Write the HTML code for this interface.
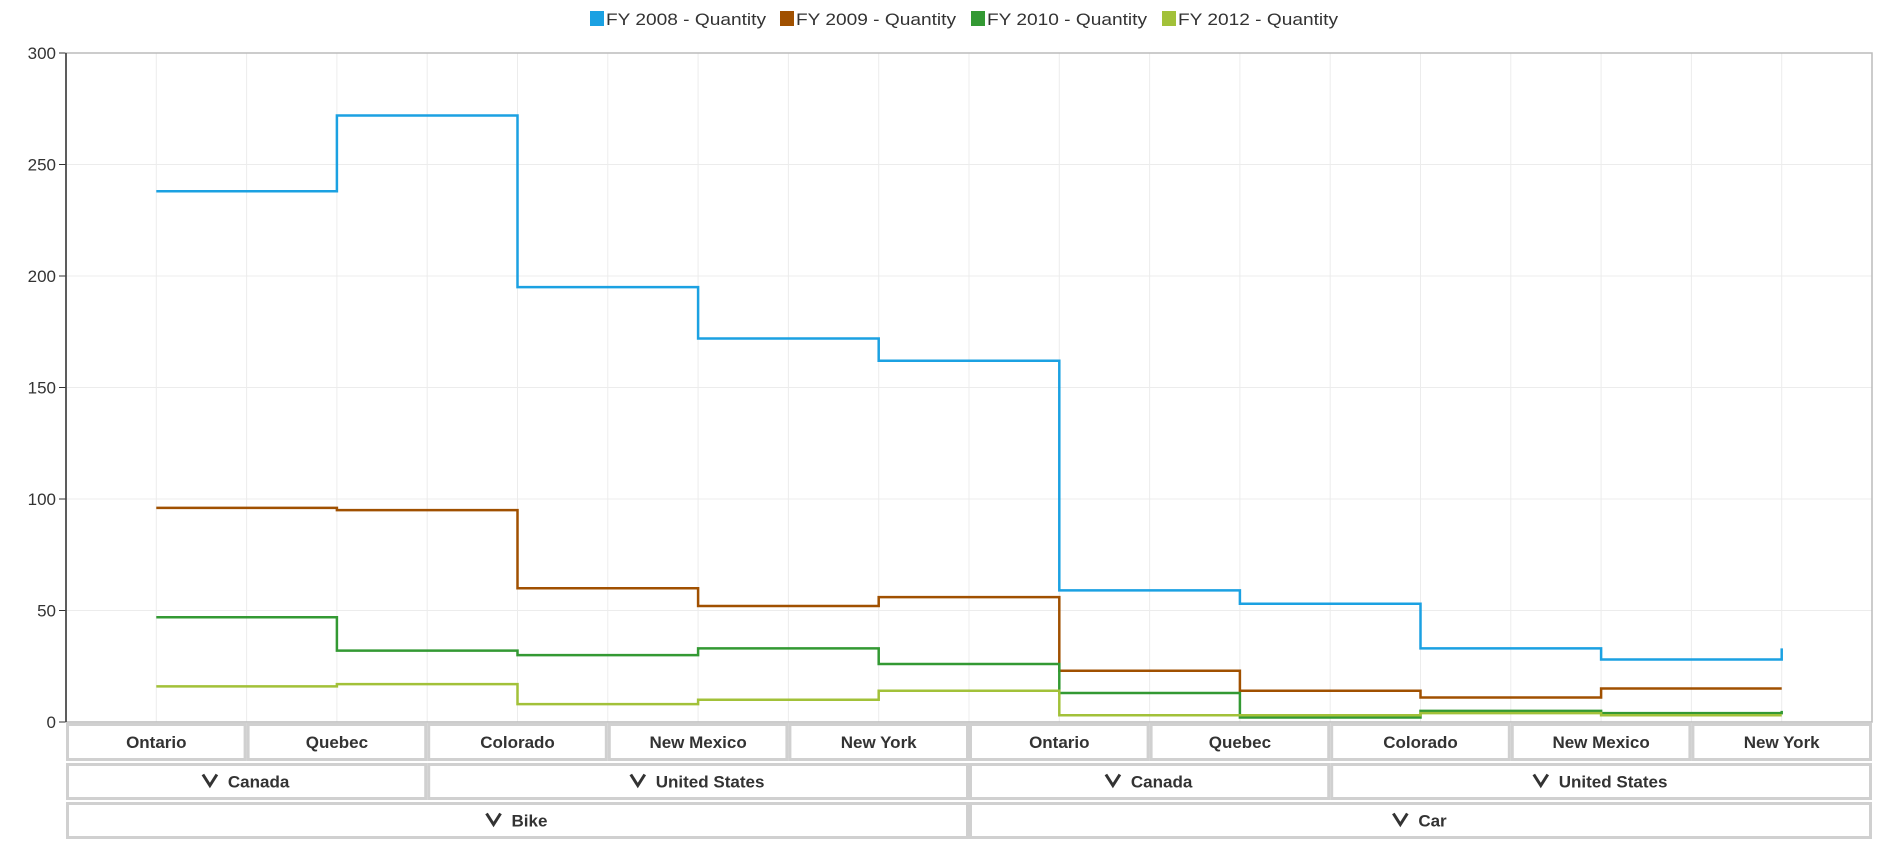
<!DOCTYPE html>
<html><head><meta charset="utf-8"><style>
html,body{margin:0;padding:0;background:#fff;}
svg{display:block;font-family:"Liberation Sans",sans-serif;}
</style></head><body>
<svg id="chart" width="1891" height="851"></svg>
<script>
const categories=["Ontario","Quebec","Colorado","New Mexico","New York","Ontario","Quebec","Colorado","New Mexico","New York"];
const countries=[["Canada",0,2],["United States",2,5],["Canada",5,7],["United States",7,10]];
const products=[["Bike",0,5],["Car",5,10]];
const seriesNames=["FY 2008 - Quantity","FY 2009 - Quantity","FY 2010 - Quantity","FY 2012 - Quantity"];
const seriesColors=["#1ba1e2","#a05000","#339933","#a2c139"];
const fy2008=[238,272,195,172,162,59,53,33,28,33];
const fy2009=[96,95,60,52,56,23,14,11,15,15];
const fy2010=[47,32,30,33,26,13,2,5,4,5];
const fy2012=[16,17,8,10,14,3,3,4,3,3];
const yTicks=[0,50,100,150,200,250,300];
const series=[fy2008,fy2009,fy2010,fy2012];

const NS="http://www.w3.org/2000/svg";
const svg=document.getElementById('chart');
const L=66,R=1872,T=53,B=722,yMax=300;
const colW=(R-L)/categories.length;
const x=i=>L+colW*(i+0.5);
const y=v=>B-(v/yMax)*(B-T);
function mk(tag,attrs,parent){const e=document.createElementNS(NS,tag);for(const k in attrs)e.setAttribute(k,attrs[k]);(parent||svg).appendChild(e);return e;}

for(let i=0;i<=categories.length*2;i++){
  const gx=L+colW*i/2;
  const g=mk('line',{x1:gx,x2:gx,y1:T,y2:B,stroke:'#ececec','stroke-width':1});
  
  
}
yTicks.forEach(t=>{
  const g=mk('line',{x1:L,x2:R,y1:y(t),y2:y(t),stroke:'#ececec','stroke-width':1});
  
  
  const tk=mk('line',{x1:L-7,x2:L,y1:y(t),y2:y(t),stroke:'#333','stroke-width':1});
  
  
  const lb=mk('text',{x:L-10,y:y(t)+6,'text-anchor':'end','font-size':17,fill:'#333'});
  lb.textContent=t;
  
  
});
const fr=mk('rect',{x:L,y:T,width:R-L,height:B-T,fill:'none',stroke:'#bbb','stroke-width':1.5});


const ax=mk('line',{x1:L,x2:L,y1:T,y2:B,stroke:'#333','stroke-width':1.5});



series.forEach((s,si)=>{
  let d=`M${x(0)},${y(s[0])}`;
  for(let i=1;i<s.length;i++){d+=` H${x(i)} V${y(s[i])}`;}
  const p=mk('path',{d:d,fill:'none',stroke:seriesColors[si],'stroke-width':2.5});
  
  
});

const rows=[[B+1,38],[B+41,37],[B+80,37]];
function cell(x0,x1,row,label,chev,name){
  const [ry,rh]=rows[row];
  const r=mk('rect',{x:x0+1.5,y:ry+1.5,width:x1-x0-3,height:rh-3,fill:'#fff',stroke:'#d0d0d0','stroke-width':3});
  
  
  const cx=(x0+x1)/2, cy=ry+rh/2+6;
  const t=mk('text',{x:chev?cx+12:cx,y:cy,'text-anchor':'middle','font-size':17,'font-weight':'bold',fill:'#333'});
  t.textContent=label;
  
  
  if(chev){
    const w=t.getComputedTextLength();
    const hx=cx+12-w/2-18;
    const c=mk('path',{d:`M${hx-7},${cy-13} L${hx},${cy-2} L${hx+7},${cy-13}`,fill:'none',stroke:'#333','stroke-width':3});
    
    
  }
}
categories.forEach((c,i)=>cell(L+colW*i,L+colW*(i+1),0,c,false,'category-'+c.toLowerCase().replace(' ','-')));
countries.forEach(c=>cell(L+colW*c[1],L+colW*c[2],1,c[0],true,'group-'+c[0].toLowerCase().replace(' ','-')));
products.forEach(c=>cell(L+colW*c[1],L+colW*c[2],2,c[0],true,'group-'+c[0].toLowerCase()));

const legX=[590,780,971,1162];
seriesNames.forEach((n,i)=>{
  const g=mk('g',{});
  
  
  mk('rect',{x:legX[i],y:11,width:14,height:15,fill:seriesColors[i]},g);
  const t=mk('text',{x:legX[i]+16,y:25,'font-size':17,fill:'#333',textLength:160,lengthAdjust:'spacingAndGlyphs'},g);
  t.textContent=n;
});
</script>
</body></html>
